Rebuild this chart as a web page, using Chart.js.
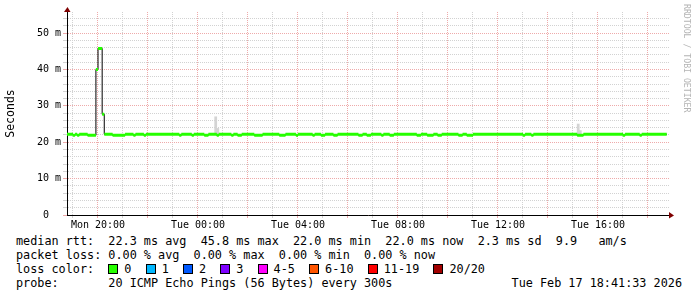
<!DOCTYPE html>
<html>
<head>
<meta charset="utf-8">
<script src="https://cdn.jsdelivr.net/npm/chart.js@4/dist/chart.umd.min.js"></script>
<style>
  body { margin: 0; background: #fff; }
  #wrap { position: relative; width: 697px; height: 297px; overflow: hidden; background: #fff; }
  #chart { position: absolute; left: 0; top: 0; }
  #credit {
    position: absolute; left: 682px; top: 4px;
    writing-mode: vertical-rl;
    font: 8.2px "DejaVu Sans Mono", monospace; color: #b4b4b4;
  }
  #legend {
    position: absolute; left: 16px; top: 234px; width: 666px;
    font: 11.8px "DejaVu Sans Mono", monospace; color: #000;
    line-height: 14px; white-space: pre;
  }
  #legend .row { position: relative; height: 14px; }
  #legend .box {
    display: inline-block; width: 8px; height: 8px; border: 1px solid #000;
    vertical-align: -1px; margin-right: 6px;
  }
  #legend .right { position: absolute; right: 0; top: 0; }
</style>
</head>
<body>
<div id="wrap">
  <canvas id="chart" width="697" height="232"></canvas>
  <div id="credit">RRDTOOL / TOBI OETIKER</div>
  <div id="legend"></div>
</div>
<script>
// ---------------- DATA ----------------
// median rtt (ms), one value per 5 minutes starting Mon 18:45
const startHour = 18.75;
const stepHours = 5 / 60;
const medianRtt = [
  22.2, 22.2, 22.2, 21.9, 22.2, 21.9, 22.2, 22.2, 22.2, 22.2, 21.9, 21.9,
  21.9, 21.9, 40.0, 45.8, 45.8, 27.7, 22.2, 22.2, 22.2, 22.2, 21.9, 21.9,
  21.9, 21.9, 21.9, 21.9, 22.2, 22.2, 22.2, 22.2, 21.9, 22.2, 22.2, 22.2,
  22.2, 21.9, 22.2, 22.2, 22.2, 22.2, 22.2, 22.2, 22.2, 22.2, 22.2, 22.2,
  22.2, 22.2, 22.2, 22.2, 22.2, 22.2, 21.9, 22.2, 22.2, 22.2, 22.2, 22.2,
  21.9, 22.2, 22.2, 22.2, 22.2, 22.2, 21.9, 21.9, 22.2, 22.2, 22.2, 22.2,
  21.9, 22.2, 22.2, 22.2, 22.2, 22.2, 22.2, 21.9, 22.2, 22.2, 21.9, 21.9,
  22.2, 22.2, 22.2, 22.2, 22.2, 22.2, 21.9, 21.9, 21.9, 21.9, 22.2, 22.2,
  22.2, 22.2, 22.2, 22.2, 22.2, 22.2, 21.9, 21.9, 21.9, 22.2, 22.2, 22.2,
  22.2, 22.2, 21.9, 22.2, 22.2, 22.2, 22.2, 22.2, 22.2, 22.2, 21.9, 22.2,
  22.2, 22.2, 21.9, 21.9, 22.2, 22.2, 22.2, 22.2, 21.9, 21.9, 22.2, 22.2,
  22.2, 22.2, 22.2, 22.2, 22.2, 22.2, 22.2, 22.2, 21.9, 21.9, 22.2, 22.2,
  21.9, 21.9, 22.2, 22.2, 22.2, 22.2, 22.2, 21.9, 22.2, 22.2, 22.2, 21.9,
  21.9, 22.2, 22.2, 22.2, 22.2, 22.2, 22.2, 22.2, 22.2, 22.2, 22.2, 22.2,
  21.9, 21.9, 22.2, 22.2, 22.2, 21.9, 21.9, 21.9, 22.2, 22.2, 21.9, 21.9,
  22.2, 22.2, 22.2, 22.2, 22.2, 22.2, 22.2, 22.2, 21.9, 21.9, 22.2, 22.2,
  21.9, 21.9, 21.9, 22.2, 22.2, 22.2, 22.2, 22.2, 22.2, 22.2, 22.2, 22.2,
  22.2, 22.2, 22.2, 22.2, 22.2, 22.2, 22.2, 22.2, 22.2, 22.2, 22.2, 22.2,
  22.2, 22.2, 22.2, 21.9, 22.2, 22.2, 22.2, 21.9, 22.2, 22.2, 22.2, 22.2,
  22.2, 22.2, 22.2, 22.2, 22.2, 22.2, 22.2, 22.2, 22.2, 22.2, 22.2, 22.2,
  22.2, 22.2, 22.2, 22.2, 22.2, 21.9, 21.9, 21.9, 22.2, 22.2, 22.2, 22.2,
  22.2, 22.2, 22.2, 22.2, 22.2, 22.2, 22.2, 22.2, 22.2, 22.2, 22.2, 22.2,
  22.2, 22.2, 22.2, 21.9, 22.2, 22.2, 22.2, 22.2, 22.2, 22.2, 22.2, 21.9,
  22.2, 22.2, 22.2, 22.2, 22.2, 22.2, 22.2, 22.2, 22.2, 22.2, 22.2, 22.2
];

// the few steps where the smoke shows above the median
const smokeSteps = [71, 72, 245, 246];
const smokeTop = [27.0, 23.8, 25.0, 23.2];

// axis labels
const xLabelHours = [20, 24, 28, 32, 36, 40];
const xLabels = ["Mon 20:00", "Tue 00:00", "Tue 04:00", "Tue 08:00", "Tue 12:00", "Tue 16:00"];
const yLabelValues = [0, 10, 20, 30, 40, 50];
const yLabels = ["0  ", "10 m", "20 m", "30 m", "40 m", "50 m"];

// legend text
const statLines = [
    "median rtt:  22.3 ms avg  45.8 ms max  22.0 ms min  22.0 ms now  2.3 ms sd  9.9   am/s",
    "packet loss: 0.00 % avg  0.00 % max  0.00 % min  0.00 % now"
];
const lossBins = ["0", "1", "2", "3", "4-5", "6-10", "11-19", "20/20"];
const lossColors = ["#26ff00", "#00b8ff", "#0059ff", "#7e00ff", "#ff00ff", "#ff5500", "#ff0000", "#a10000"];
const probeText = "probe:       20 ICMP Echo Pings (56 Bytes) every 300s";
const stampText = "Tue Feb 17 18:41:33 2026";

// ---------------- STYLE ----------------
const GRID_MINOR = "#d2d2d2";
const GRID_MAJOR = "#eeaaaa";
const X_MIN = 18.76;
const X_MAX = 42.84;
const Y_MAX = 55.8;

Chart.defaults.font.family = "'DejaVu Sans Mono', monospace";
Chart.defaults.font.size = 10;
Chart.defaults.color = "#000";

// ---------------- DATASETS ----------------
// black step line (shows the vertical jumps)
const stepLine = medianRtt.map((v, i) => ({ x: startHour + i * stepHours, y: v }));
stepLine.push({ x: startHour + medianRtt.length * stepHours, y: medianRtt[medianRtt.length - 1] });

// green horizontal pieces only
const greenPieces = [];
medianRtt.forEach((v, i) => {
    const x0 = startHour + i * stepHours;
    greenPieces.push({ x: x0, y: v }, { x: x0 + stepHours, y: v }, { x: x0 + stepHours, y: null });
});

const smokeBars = smokeSteps.map((s, k) => ({
    x: startHour + (s + 0.5) * stepHours,
    y: [medianRtt[s], smokeTop[k]]
}));

// ---------------- PLUGINS ----------------
const axisArrows = {
    id: "axisArrows",
    afterDraw(chart) {
        const { ctx, chartArea: a } = chart;
        ctx.save();
        ctx.fillStyle = "#7f0000";
        ctx.beginPath();
        ctx.moveTo(a.left - 3, a.top);
        ctx.lineTo(a.left + 3.5, a.top);
        ctx.lineTo(a.left + 0.5, a.top - 5);
        ctx.fill();
        ctx.beginPath();
        ctx.moveTo(a.right, a.bottom - 3);
        ctx.lineTo(a.right, a.bottom + 3.5);
        ctx.lineTo(a.right + 5, a.bottom + 0.5);
        ctx.fill();
        ctx.restore();
    }
};

// ---------------- CHART ----------------
new Chart(document.getElementById("chart"), {
    type: "line",
    data: {
        datasets: [
            {
                data: greenPieces,
                borderColor: "#26ff00",
                borderWidth: 3,
                pointRadius: 0,
                spanGaps: false,
                order: 0
            },
            {
                data: stepLine,
                borderColor: "#000",
                borderWidth: 1,
                pointRadius: 0,
                stepped: true,
                order: 1
            },
            {
                type: "bar",
                data: smokeBars,
                backgroundColor: "#d4d4d4",
                barPercentage: 1,
                categoryPercentage: 1,
                order: 2
            }
        ]
    },
    options: {
        responsive: false,
        animation: false,
        layout: { padding: { top: 12, right: 28, left: 0, bottom: 0 } },
        plugins: { legend: { display: false }, tooltip: { enabled: false } },
        scales: {
            x: {
                type: "linear",
                min: X_MIN,
                max: X_MAX,
                offset: false,
                afterBuildTicks: axis => {
                    const t = [];
                    for (let h = 19; h <= 42; h++) t.push({ value: h });
                    axis.ticks = t;
                },
                afterFit: axis => { axis.height = 17; },
                ticks: {
                    autoSkip: false,
                    maxRotation: 0,
                    padding: 1,
                    color: "#000",
                    callback: v => {
                        const k = xLabelHours.indexOf(v);
                        return k >= 0 ? xLabels[k] : "";
                    }
                },
                grid: {
                    offset: false,
                    color: c => (c.tick && c.tick.value % 2 === 0 ? GRID_MAJOR : GRID_MINOR),
                    tickLength: 3,
                    borderDash: [1, 1]
                },
                border: { color: "#000", width: 1, dash: [1, 1] }
            },
            y: {
                min: 0,
                max: Y_MAX,
                afterBuildTicks: axis => {
                    const t = [];
                    for (let v = 0; v <= 54; v += 2) t.push({ value: v });
                    axis.ticks = t;
                },
                afterFit: axis => { axis.width = 67; },
                ticks: {
                    autoSkip: false,
                    padding: 2,
                    color: "#000",
                    callback: v => {
                        const k = yLabelValues.indexOf(v);
                        return k >= 0 ? yLabels[k] : "";
                    }
                },
                grid: {
                    color: c => (c.tick && c.tick.value % 10 === 0 ? GRID_MAJOR : GRID_MINOR),
                    tickLength: 4,
                    borderDash: [1, 1]
                },
                border: { color: "#000", width: 1, dash: [1, 1] },
                title: {
                    display: true,
                    text: "Seconds",
                    color: "#000",
                    font: { size: 11.5 },
                    padding: { top: 4, bottom: 0 }
                }
            }
        }
    },
    plugins: [axisArrows]
});

// ---------------- LEGEND ----------------
const legend = document.getElementById("legend");
statLines.forEach(line => {
    legend.innerHTML += `<div class="row">${line}</div>`;
});
let loss = "loss color:  ";
lossBins.forEach((b, i) => {
    loss += `<span class="box" style="background:${lossColors[i]}"></span>${b}  `;
});
legend.innerHTML += `<div class="row">${loss}</div>`;
legend.innerHTML += `<div class="row">${probeText}<span class="right">${stampText}</span></div>`;
</script>
</body>
</html>
